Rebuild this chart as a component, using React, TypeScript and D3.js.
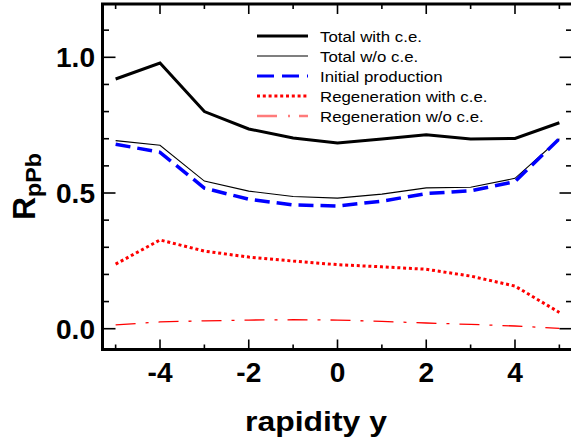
import React from "react";
import * as d3 from "d3";

const rapidity = [-5, -4, -3, -2, -1, 0, 1, 2, 3, 4, 5];
const totalWithCE = [0.92, 0.979, 0.8, 0.736, 0.703, 0.684, 0.699, 0.715, 0.699, 0.701, 0.759];
const totalWithoutCE = [0.693, 0.676, 0.544, 0.507, 0.487, 0.481, 0.496, 0.519, 0.521, 0.554, 0.7];
const initialProduction = [0.68, 0.65, 0.518, 0.477, 0.456, 0.452, 0.47, 0.498, 0.508, 0.542, 0.7];
const regenWithCE = [0.238, 0.327, 0.286, 0.264, 0.249, 0.236, 0.228, 0.219, 0.194, 0.157, 0.06];
const regenWithoutCE = [0.014, 0.025, 0.029, 0.032, 0.033, 0.032, 0.027, 0.021, 0.016, 0.01, 0.001];

const seriesLabels = [
  "Total with c.e.",
  "Total w/o c.e.",
  "Initial production",
  "Regeneration with c.e.",
  "Regeneration w/o c.e.",
];
const xTickLabels = [-4, -2, 0, 2, 4];
const yTickLabels = [0.0, 0.5, 1.0];
const xMinorTicks = [-5, -3, -1, 1, 3, 5];
const yMinorTicks = [0.1, 0.2, 0.3, 0.4, 0.6, 0.7, 0.8, 0.9, 1.1];

const seriesValues = [totalWithCE, totalWithoutCE, initialProduction, regenWithCE, regenWithoutCE];

const styles = [
  { color: "#000000", width: 3, dash: "", legendColor: "#000000", legendWidth: 3, legendDash: "" },
  { color: "#000000", width: 1.1, dash: "", legendColor: "#000000", legendWidth: 1.1, legendDash: "" },
  { color: "#0000ff", width: 3.5, dash: "15,7", legendColor: "#0000ff", legendWidth: 3, legendDash: "17,8" },
  { color: "#ff0000", width: 3, dash: "3,2.8", legendColor: "#ff0000", legendWidth: 3, legendDash: "3,2.8" },
  { color: "#ff0000", width: 1.3, dash: "20,10,3,10", legendColor: "#ff7b7b", legendWidth: 2.5, legendDash: "20,11,2,9" },
];

const W = 571;
const H = 445;
const FX0 = 102.5;
const FX1 = 572.5;
const FY0 = 4;
const FY1 = 349.5;
const SX = 1.04;
const FONT = "'Liberation Sans', Arial, Helvetica, sans-serif";

export default function App() {
  const x = d3.scaleLinear().domain([-5.296, 5.296]).range([FX0, FX1]);
  const y = d3.scaleLinear().domain([-0.0766, 1.1964]).range([FY1, FY0]);

  const line = d3
    .line<[number, number]>()
    .x((d) => x(d[0]))
    .y((d) => y(d[1]));

  const legendX0 = 257;
  const legendX1 = 308;
  const legendTextX = 320;
  const legendY = (i: number) => 36 + i * 20;

  return (
    <svg
      width={W}
      height={H}
      style={{ position: "absolute", left: 0, top: 0, background: "#fff" }}
      fontFamily={FONT}
    >
      <rect x={0} y={0} width={W} height={H} fill="#fff" />
      {seriesValues.map((vals, i) => (
        <path
          key={i}
          d={line(rapidity.map((r, j) => [r, vals[j]] as [number, number])) || ""}
          fill="none"
          stroke={styles[i].color}
          strokeWidth={styles[i].width}
          strokeDasharray={styles[i].dash || undefined}
          strokeLinejoin="miter"
        />
      ))}

      <g stroke="#000" strokeWidth={1.6}>
        {xTickLabels.map((t) => (
          <g key={"xm" + t}>
            <line x1={x(t)} x2={x(t)} y1={FY1} y2={FY1 - 10} />
            <line x1={x(t)} x2={x(t)} y1={FY0} y2={FY0 + 10} />
          </g>
        ))}
        {xMinorTicks.map((t) => (
          <g key={"xn" + t}>
            <line x1={x(t)} x2={x(t)} y1={FY1} y2={FY1 - 5} />
            <line x1={x(t)} x2={x(t)} y1={FY0} y2={FY0 + 5} />
          </g>
        ))}
        {yTickLabels.map((t) => (
          <g key={"ym" + t}>
            <line x1={FX0} x2={FX0 + 13} y1={y(t)} y2={y(t)} />
            <line x1={FX1} x2={FX1 - 13} y1={y(t)} y2={y(t)} />
          </g>
        ))}
        {yMinorTicks.map((t) => (
          <g key={"yn" + t}>
            <line x1={FX0} x2={FX0 + 6.5} y1={y(t)} y2={y(t)} />
            <line x1={FX1} x2={FX1 - 6.5} y1={y(t)} y2={y(t)} />
          </g>
        ))}
      </g>

      <rect
        x={FX0}
        y={FY0}
        width={FX1 - FX0}
        height={FY1 - FY0}
        fill="none"
        stroke="#000"
        strokeWidth={3}
      />

      {xTickLabels.map((t) => (
        <text
          key={"xl" + t}
          transform={`translate(${x(t)},382) scale(${SX},1)`}
          textAnchor="middle"
          fontSize={27}
          fontWeight="bold"
        >
          {String(t)}
        </text>
      ))}
      {yTickLabels.map((t) => (
        <text
          key={"yl" + t}
          transform={`translate(95,${y(t) + 10}) scale(${SX},1)`}
          textAnchor="end"
          fontSize={27}
          fontWeight="bold"
        >
          {t.toFixed(1)}
        </text>
      ))}

      <text
        transform={`translate(316,431) scale(1.16,1)`}
        textAnchor="middle"
        fontSize={27.5}
        fontWeight="bold"
      >
        rapidity y
      </text>
      <g transform="translate(35,220) rotate(-90)">
        <text x={0} y={0} fontSize={32} fontWeight="bold">
          R
        </text>
        <text transform="translate(23,6) scale(1.08,1)" fontSize={21.5} fontWeight="bold">
          pPb
        </text>
      </g>

      {seriesLabels.map((lab, i) => (
        <g key={"lg" + i}>
          <line
            x1={legendX0}
            x2={legendX1}
            y1={legendY(i)}
            y2={legendY(i)}
            stroke={styles[i].legendColor}
            strokeWidth={styles[i].legendWidth}
            strokeDasharray={styles[i].legendDash || undefined}
          />
          <text
            transform={`translate(${legendTextX},${legendY(i) + 6}) scale(1.1,1)`}
            fontSize={15.3}
          >
            {lab}
          </text>
        </g>
      ))}
    </svg>
  );
}
